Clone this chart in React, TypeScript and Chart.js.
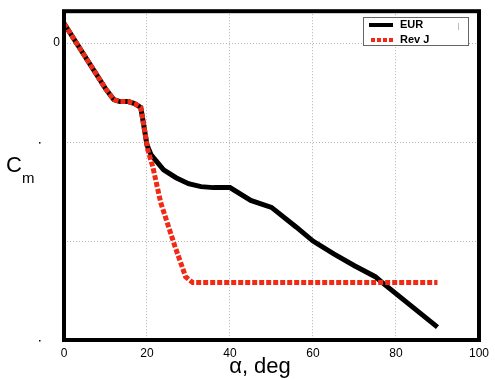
import React, { useEffect, useRef } from "react";
import { Chart, registerables } from "chart.js";

Chart.register(...registerables);

// angle of attack, deg
const eurAlpha = [0, 5, 10, 12, 13.5, 15.5, 17, 18.5, 19.3, 20, 21, 24, 27, 30, 33, 36, 40, 45, 50, 56, 60, 65, 70, 75, 77, 90];
const eurCm = [0.02, -0.013, -0.046, -0.057, -0.059, -0.059, -0.061, -0.065, -0.085, -0.103, -0.113, -0.128, -0.136, -0.142, -0.145, -0.146, -0.146, -0.159, -0.166, -0.186, -0.2, -0.213, -0.225, -0.236, -0.243, -0.287];

const revAlpha = [0, 5, 10, 12, 13.5, 15.5, 17, 18.5, 19.3, 20.2, 21.4, 23.3, 26.7, 29.3, 31, 90];
const revCm = [0.02, -0.013, -0.046, -0.057, -0.059, -0.059, -0.061, -0.065, -0.085, -0.108, -0.125, -0.161, -0.205, -0.236, -0.242, -0.242];

const xTicks = [0, 20, 40, 60, 80, 100];
const yTicks = [-0.3, -0.2, -0.1, 0];
const seriesNames = ["EUR", "Rev J"];

const FONT = "'Liberation Sans', Arial, sans-serif";
const RED = "#f02a14";
const GRID = "#b4b4b4";

export default function App() {
  const ref = useRef<HTMLCanvasElement | null>(null);

  useEffect(() => {
    document.body.style.margin = "0";
    const canvas = ref.current;
    if (!canvas) return;

    const decor = {
      id: "decor",
      afterDraw(chart: any) {
        const ctx = chart.ctx;
        const a = chart.chartArea;
        const ys = chart.scales.y;
        ctx.save();
        // frame
        ctx.strokeStyle = "#000";
        ctx.lineWidth = 4;
        ctx.strokeRect(a.left, a.top, a.right - a.left, a.bottom - a.top);
        // stray dots beside y ticks
        ctx.fillStyle = "#000";
        [-0.1, -0.3].forEach((v) => {
          const py = ys.getPixelForValue(v);
          ctx.fillRect(39, py, 1.5, 1.5);
        });
        // axis titles
        ctx.textAlign = "center";
        ctx.textBaseline = "alphabetic";
        ctx.font = `22px ${FONT}`;
        ctx.fillText("\u03b1, deg", 260, 373);
        ctx.textAlign = "left";
        ctx.font = `22px ${FONT}`;
        ctx.fillText("C", 6, 172);
        ctx.font = `15px ${FONT}`;
        ctx.fillText("m", 22, 183);
        // legend
        const lx = 363.5, ly = 17.5, lw = 105, lh = 28;
        ctx.fillStyle = "#fff";
        ctx.fillRect(lx, ly, lw, lh);
        ctx.strokeStyle = "#666";
        ctx.lineWidth = 1;
        ctx.strokeRect(lx, ly, lw, lh);
        ctx.beginPath();
        ctx.strokeStyle = "#bbb";
        ctx.moveTo(458.5, 23);
        ctx.lineTo(458.5, 30);
        ctx.stroke();
        ctx.lineWidth = 4;
        ctx.strokeStyle = "#000";
        ctx.beginPath();
        ctx.moveTo(369, 25);
        ctx.lineTo(393, 25);
        ctx.stroke();
        ctx.strokeStyle = RED;
        ctx.setLineDash([4, 2]);
        ctx.beginPath();
        ctx.moveTo(371, 40);
        ctx.lineTo(393, 40);
        ctx.stroke();
        ctx.setLineDash([]);
        ctx.fillStyle = "#000";
        ctx.font = `bold 11px ${FONT}`;
        ctx.textBaseline = "middle";
        ctx.fillText(seriesNames[0], 400, 25);
        ctx.fillText(seriesNames[1], 400, 40);
        ctx.restore();
      },
    };

    const chart = new Chart(canvas, {
      type: "line",
      data: {
        datasets: [
          {
            label: seriesNames[0],
            data: eurAlpha.map((x, i) => ({ x, y: eurCm[i] })),
            borderColor: "#000",
            borderWidth: 5,
            pointRadius: 0,
            tension: 0,
            order: 1,
          },
          {
            label: seriesNames[1],
            data: revAlpha.map((x, i) => ({ x, y: revCm[i] })),
            borderColor: RED,
            borderWidth: 5,
            borderDash: [5, 2],
            borderCapStyle: "butt",
            pointRadius: 0,
            tension: 0,
            order: 0,
          },
        ],
      },
      options: {
        animation: false,
        responsive: false,
        devicePixelRatio: 1,
        layout: { padding: { top: 11, right: 11, left: 0, bottom: 0 } },
        plugins: { legend: { display: false }, tooltip: { enabled: false } },
        scales: {
          x: {
            type: "linear",
            min: 0,
            max: 100,
            afterFit: (s: any) => {
              s.height = 40;
            },
            afterBuildTicks: (s: any) => {
              s.ticks = xTicks.map((v) => ({ value: v }));
            },
            border: { display: false, dash: [1, 2] },
            grid: {
              color: GRID,
              lineWidth: 1,
              drawTicks: false,
            },
            ticks: {
              padding: 6,
              color: "#000",
              font: { family: FONT, size: 12 },
              maxRotation: 0,
              autoSkip: false,
            },
          },
          y: {
            type: "linear",
            min: -0.3,
            max: 0.0323,
            afterFit: (s: any) => {
              s.width = 64;
            },
            afterBuildTicks: (s: any) => {
              s.ticks = yTicks.map((v) => ({ value: v }));
            },
            border: { display: false, dash: [1, 2] },
            grid: {
              color: GRID,
              lineWidth: 1,
              drawTicks: false,
            },
            ticks: {
              padding: 4,
              color: "#000",
              font: { family: FONT, size: 12 },
              callback: (v: any) => (Math.abs(Number(v)) < 1e-9 ? "0" : ""),
            },
          },
        },
      },
      plugins: [decor],
    });

    return () => chart.destroy();
  }, []);

  return <canvas ref={ref} width={495} height={380} style={{ display: "block" }} />;
}
